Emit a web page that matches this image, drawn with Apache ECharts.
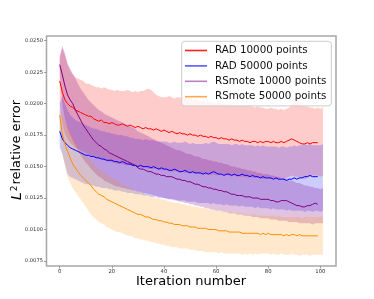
<!DOCTYPE html>
<html>
<head>
<meta charset="utf-8">
<script src="https://cdn.jsdelivr.net/npm/echarts@6.0.0/dist/echarts.min.js"></script>
<style>html,body{margin:0;padding:0;background:#fff}#c{width:374px;height:299px}</style>
</head>
<body>
<div id="c"></div>
<script>
// ---- data ----
const seriesNames = ['RAD 10000 points', 'RAD 50000 points', 'RSmote 10000 points', 'RSmote 50000 points'];
const xTicks = [0, 20, 40, 60, 80, 100];
const yTicks = [0.0075, 0.0100, 0.0125, 0.0150, 0.0175, 0.0200, 0.0225, 0.0250];

const rad10kMean = [
.0218,.0209,.0203,.0200,.0198,.0197,.0195,.0194,.0193,.0192,
.0191,.0190,.0190,.0188,.0187,.0186,.0187,.0185,.0185,.0184,
.0185,.0184,.0183,.0183,.0184,.0183,.0182,.0183,.0182,.0181,
.0182,.0181,.0180,.0181,.0180,.0180,.0179,.0180,.0179,.0178,
.0179,.0178,.0177,.0178,.0177,.0176,.0177,.0176,.0176,.0175,
.0176,.0175,.0175,.0174,.0175,.0174,.0174,.0173,.0174,.0173,
.0173,.0172,.0173,.0172,.0172,.0171,.0172,.0171,.0171,.0170,
.0171,.0170,.0170,.0169,.0170,.0170,.0169,.0170,.0169,.0170,
.0170,.0169,.0170,.0169,.0169,.0170,.0169,.0170,.0171,.0172,
.0171,.0170,.0169,.0168,.0168,.0169,.0168,.0169,.0169,.0169];
const rad10kUpper = [
.0236,.0244,.0238,.0231,.0226,.0223,.0221,.0220,.0219,.0218,
.0216,.0216,.0215,.0214,.0213,.0213,.0212,.0213,.0212,.0211,
.0211,.0210,.0211,.0210,.0210,.0210,.0211,.0210,.0209,.0210,
.0209,.0210,.0210,.0211,.0212,.0211,.0209,.0207,.0206,.0205,
.0205,.0205,.0206,.0205,.0204,.0205,.0205,.0204,.0205,.0204,
.0204,.0203,.0204,.0203,.0202,.0202,.0201,.0202,.0201,.0201,
.0200,.0201,.0200,.0200,.0199,.0200,.0199,.0199,.0198,.0199,
.0199,.0198,.0199,.0198,.0198,.0197,.0198,.0197,.0197,.0196,
.0196,.0197,.0196,.0196,.0195,.0196,.0195,.0196,.0197,.0199,
.0201,.0202,.0201,.0199,.0198,.0198,.0197,.0197,.0196,.0197,.0196,.0197];
const rad10kLower = [
.0200,.0185,.0176,.0172,.0169,.0167,.0165,.0164,.0163,.0162,
.0161,.0160,.0159,.0158,.0157,.0156,.0156,.0155,.0154,.0154,
.0153,.0153,.0152,.0152,.0152,.0151,.0151,.0151,.0150,.0150,
.0150,.0149,.0149,.0149,.0148,.0148,.0148,.0148,.0147,.0147,
.0147,.0147,.0146,.0146,.0146,.0146,.0145,.0146,.0145,.0145,
.0145,.0145,.0144,.0145,.0144,.0144,.0144,.0144,.0143,.0144,
.0143,.0143,.0144,.0143,.0143,.0143,.0142,.0143,.0142,.0142,
.0142,.0142,.0141,.0142,.0141,.0141,.0141,.0141,.0140,.0141,
.0141,.0140,.0141,.0140,.0140,.0141,.0140,.0141,.0142,.0143,
.0142,.0142,.0141,.0141,.0140,.0141,.0142,.0143,.0143,.0143,.0142,.0143];

const rad50kMean = [
.0178,.0172,.0169,.0167,.0165,.0164,.0163,.0162,.0161,.0160,
.0159,.0159,.0158,.0158,.0157,.0157,.0156,.0156,.0155,.0155,
.0155,.0154,.0154,.0153,.0154,.0153,.0152,.0152,.0151,.0151,
.0150,.0151,.0150,.0150,.0150,.0149,.0150,.0149,.0148,.0149,
.0148,.0148,.0147,.0147,.0148,.0147,.0146,.0146,.0147,.0146,
.0145,.0146,.0145,.0145,.0145,.0144,.0145,.0144,.0145,.0146,
.0145,.0144,.0144,.0143,.0144,.0144,.0143,.0144,.0143,.0143,
.0144,.0143,.0143,.0142,.0143,.0142,.0142,.0141,.0142,.0141,
.0141,.0141,.0140,.0141,.0140,.0140,.0140,.0139,.0140,.0140,
.0141,.0140,.0141,.0141,.0142,.0142,.0143,.0142,.0142,.0142];
const rad50kUpper = [
.0200,.0206,.0200,.0195,.0191,.0189,.0187,.0186,.0185,.0184,
.0183,.0182,.0181,.0180,.0180,.0179,.0178,.0178,.0177,.0177,
.0176,.0176,.0175,.0175,.0175,.0174,.0174,.0173,.0173,.0172,
.0172,.0172,.0171,.0172,.0171,.0171,.0171,.0170,.0170,.0170,
.0170,.0170,.0169,.0169,.0170,.0169,.0169,.0169,.0170,.0169,
.0168,.0169,.0168,.0168,.0168,.0168,.0169,.0168,.0169,.0170,
.0169,.0168,.0168,.0168,.0168,.0168,.0167,.0168,.0168,.0167,
.0168,.0167,.0167,.0167,.0167,.0166,.0167,.0166,.0167,.0166,
.0166,.0166,.0166,.0166,.0165,.0166,.0166,.0165,.0166,.0166,
.0167,.0166,.0167,.0167,.0168,.0167,.0168,.0167,.0167,.0167,.0167,.0168];
const rad50kLower = [
.0165,.0160,.0152,.0144,.0142,.0141,.0140,.0139,.0138,.0137,
.0136,.0136,.0135,.0135,.0134,.0134,.0133,.0133,.0133,.0132,
.0132,.0131,.0131,.0131,.0130,.0130,.0129,.0129,.0129,.0128,
.0128,.0128,.0127,.0127,.0127,.0126,.0126,.0126,.0125,.0125,
.0125,.0124,.0124,.0124,.0124,.0123,.0123,.0123,.0123,.0122,
.0122,.0122,.0122,.0121,.0121,.0121,.0121,.0121,.0120,.0121,
.0120,.0120,.0120,.0119,.0120,.0119,.0119,.0119,.0119,.0118,
.0119,.0118,.0118,.0118,.0118,.0117,.0118,.0117,.0117,.0117,
.0117,.0116,.0117,.0116,.0116,.0116,.0116,.0115,.0116,.0115,
.0115,.0115,.0115,.0115,.0114,.0115,.0115,.0114,.0115,.0115,.0114,.0115];

const rs10kMean = [
.0231,.0223,.0214,.0207,.0203,.0200,.0195,.0191,.0187,.0183,
.0180,.0177,.0174,.0171,.0169,.0167,.0166,.0164,.0163,.0161,
.0160,.0159,.0158,.0157,.0156,.0155,.0154,.0153,.0152,.0151,
.0149,.0148,.0148,.0147,.0146,.0146,.0145,.0144,.0144,.0143,
.0143,.0142,.0142,.0142,.0141,.0140,.0140,.0139,.0139,.0138,
.0138,.0137,.0136,.0136,.0135,.0134,.0134,.0133,.0133,.0132,
.0132,.0131,.0131,.0130,.0130,.0129,.0128,.0128,.0127,.0127,
.0127,.0126,.0126,.0126,.0125,.0125,.0125,.0124,.0124,.0124,
.0124,.0123,.0123,.0122,.0122,.0123,.0123,.0123,.0122,.0121,
.0120,.0119,.0119,.0118,.0118,.0119,.0119,.0120,.0121,.0120];
const rs10kUpper = [
.0238,.0246,.0240,.0232,.0228,.0224,.0220,.0216,.0212,.0209,
.0206,.0203,.0201,.0199,.0197,.0195,.0194,.0192,.0191,.0190,
.0189,.0188,.0187,.0186,.0185,.0184,.0183,.0182,.0181,.0180,
.0178,.0177,.0176,.0175,.0174,.0173,.0172,.0171,.0170,.0169,
.0168,.0167,.0166,.0165,.0164,.0163,.0163,.0162,.0161,.0160,
.0160,.0159,.0158,.0158,.0157,.0156,.0156,.0155,.0155,.0154,
.0154,.0153,.0153,.0152,.0152,.0151,.0150,.0150,.0149,.0149,
.0148,.0148,.0147,.0147,.0146,.0146,.0145,.0145,.0144,.0144,
.0144,.0143,.0143,.0142,.0142,.0141,.0141,.0140,.0139,.0139,
.0138,.0137,.0137,.0136,.0135,.0135,.0134,.0134,.0133,.0133,.0132,.0133];
const rs10kLower = [
.0224,.0200,.0188,.0180,.0175,.0171,.0167,.0163,.0159,.0156,
.0153,.0151,.0148,.0146,.0144,.0142,.0141,.0139,.0138,.0137,
.0136,.0135,.0134,.0134,.0133,.0133,.0132,.0132,.0131,.0131,
.0130,.0130,.0129,.0129,.0128,.0128,.0127,.0127,.0126,.0126,
.0125,.0125,.0124,.0124,.0123,.0123,.0122,.0122,.0121,.0121,
.0120,.0120,.0119,.0119,.0118,.0118,.0117,.0117,.0116,.0116,
.0115,.0115,.0115,.0114,.0114,.0113,.0113,.0113,.0112,.0112,
.0112,.0111,.0111,.0111,.0110,.0110,.0110,.0109,.0109,.0109,
.0109,.0108,.0108,.0108,.0107,.0107,.0107,.0107,.0106,.0106,
.0106,.0106,.0105,.0105,.0105,.0105,.0105,.0104,.0105,.0105,.0105,.0105];

const rs50kMean = [
.0191,.0176,.0168,.0162,.0157,.0152,.0149,.0146,.0143,.0141,
.0139,.0137,.0135,.0132,.0130,.0128,.0127,.0126,.0124,.0123,
.0122,.0121,.0120,.0119,.0118,.0117,.0116,.0115,.0114,.0113,
.0112,.0112,.0111,.0110,.0110,.0109,.0108,.0108,.0107,.0107,
.0106,.0106,.0105,.0105,.0104,.0104,.0104,.0103,.0103,.0103,
.0102,.0102,.0102,.0101,.0101,.0101,.0101,.0100,.0100,.0100,
.0100,.0099,.0099,.0099,.0099,.0098,.0098,.0098,.0098,.0098,
.0097,.0097,.0097,.0097,.0097,.0097,.0097,.0096,.0097,.0096,
.0097,.0096,.0096,.0096,.0096,.0096,.0095,.0096,.0095,.0096,
.0096,.0095,.0096,.0095,.0095,.0095,.0095,.0095,.0095,.0095];
const rs50kUpper = [
.0196,.0192,.0186,.0182,.0178,.0173,.0169,.0166,.0163,.0161,
.0159,.0157,.0155,.0152,.0150,.0148,.0147,.0145,.0144,.0142,
.0141,.0140,.0139,.0137,.0136,.0135,.0134,.0133,.0132,.0131,
.0130,.0130,.0129,.0128,.0127,.0127,.0126,.0125,.0125,.0124,
.0124,.0123,.0122,.0122,.0121,.0121,.0121,.0120,.0120,.0119,
.0119,.0118,.0118,.0118,.0117,.0117,.0117,.0116,.0116,.0116,
.0115,.0115,.0115,.0114,.0114,.0114,.0114,.0113,.0113,.0113,
.0113,.0112,.0112,.0112,.0112,.0112,.0111,.0111,.0111,.0111,
.0111,.0111,.0111,.0110,.0111,.0110,.0110,.0110,.0110,.0110,
.0110,.0110,.0110,.0109,.0110,.0110,.0110,.0110,.0110,.0110,.0110,.0111];
const rs50kLower = [
.0186,.0160,.0150,.0142,.0137,.0133,.0130,.0127,.0124,.0121,
.0118,.0115,.0112,.0110,.0108,.0106,.0105,.0104,.0102,.0101,
.0100,.0099,.0098,.0098,.0097,.0096,.0095,.0095,.0094,.0093,
.0093,.0092,.0092,.0091,.0091,.0090,.0090,.0089,.0089,.0088,
.0088,.0087,.0087,.0086,.0086,.0086,.0085,.0085,.0085,.0085,
.0084,.0084,.0084,.0083,.0083,.0083,.0082,.0082,.0082,.0082,
.0082,.0081,.0082,.0081,.0081,.0081,.0081,.0081,.0081,.0081,
.0080,.0081,.0080,.0081,.0080,.0081,.0080,.0081,.0081,.0081,
.0081,.0080,.0081,.0080,.0080,.0081,.0080,.0080,.0080,.0081,
.0080,.0080,.0079,.0080,.0080,.0080,.0079,.0080,.0080,.0080,.0080,.0080];

// ---- build ----
const lineX = rad10kMean.map((_, i) => i);      // iterations 0..99
const bandX = rad10kUpper.map((_, i) => i);     // band samples 0..101

const lineColors = ['#ff0000', '#0000ff', '#800080', '#ff8c00'];
const legendColors = ['#ff2020', '#5a5aff', '#c080c0', '#ffa850'];
const bandFills = ['rgba(255,0,0,0.2)', 'rgba(0,0,255,0.2)', 'rgba(128,0,128,0.24)', 'rgba(255,140,0,0.2)'];
const means = [rad10kMean, rad50kMean, rs10kMean, rs50kMean];
const uppers = [rad10kUpper, rad50kUpper, rs10kUpper, rs50kUpper];
const lowers = [rad10kLower, rad50kLower, rs10kLower, rs50kLower];

const FONT = 'DejaVu Sans';
const series = [];
for (let k = 0; k < 4; k++) {
  const up = uppers[k], lo = lowers[k];
  series.push({
    type: 'custom',
    name: 'band' + k,
    silent: true,
    z: 1,
    data: [[bandX[0], up[0]]],
    renderItem: function (params, api) {
      const pts = [];
      for (let i = 0; i < bandX.length; i++) pts.push(api.coord([bandX[i], up[i]]));
      for (let i = bandX.length - 1; i >= 0; i--) pts.push(api.coord([bandX[i], lo[i]]));
      return { type: 'polygon', shape: { points: pts }, style: { fill: bandFills[k] } };
    }
  });
}
for (let k = 0; k < 4; k++) {
  series.push({
    type: 'line',
    name: seriesNames[k],
    z: 3,
    showSymbol: false,
    symbol: 'none',
    animation: false,
    lineStyle: { color: lineColors[k], width: 1 },
    itemStyle: { color: lineColors[k] },
    data: lineX.map((x, i) => [x, means[k][i]])
  });
}

const chart = echarts.init(document.getElementById('c'), null, { renderer: 'canvas' });
chart.setOption({
  animation: false,
  backgroundColor: '#fff',
  grid: { left: 46.5, top: 36, right: 38, bottom: 33, show: true, borderColor: '#a8a8a8', borderWidth: 1.5, backgroundColor: 'transparent' },
  xAxis: {
    type: 'value', min: -5.07, max: 106.0,
    axisLine: { show: false, onZero: false },
    splitLine: { show: false },
    axisTick: { show: true, inside: false, customValues: xTicks, length: 2.5, lineStyle: { color: '#888', width: 0.8 } },
    axisLabel: { customValues: xTicks, fontSize: 5.3, fontFamily: FONT, color: '#333', margin: 3.5 }
  },
  yAxis: {
    type: 'value', min: 0.007103, max: 0.025373,
    axisLine: { show: false, onZero: false },
    splitLine: { show: false },
    axisTick: { show: true, inside: false, customValues: yTicks, length: 2.5, lineStyle: { color: '#888', width: 0.8 } },
    axisLabel: { customValues: yTicks, fontSize: 5.2, fontFamily: FONT, color: '#333', margin: 3.5,
      formatter: v => v.toFixed(4) }
  },
  legend: {
    left: 181.7, top: 41.3, orient: 'vertical',
    padding: [1.5, 5, 1.5, 3.3], itemGap: 0,
    itemWidth: 22, itemHeight: 1.6, icon: 'rect',
    backgroundColor: 'rgba(255,255,255,0.8)', borderColor: '#cccccc', borderWidth: 1, borderRadius: 3,
    textStyle: { fontFamily: FONT, fontSize: 10.3, color: '#111', lineHeight: 15.4, padding: [0, 0, 0, 3] },
    data: seriesNames.map((n, k) => ({ name: n, itemStyle: { color: legendColors[k] } }))
  },
  graphic: [
    { type: 'text', x: 191, y: 281.5, style: { text: 'Iteration number', font: '13px "DejaVu Sans"', fill: '#000', align: 'center', verticalAlign: 'middle' } },
    { type: 'text', x: 17, y: 150, rotation: Math.PI / 2,
      style: { text: '{l|L}{s|2}{t|relative error}', align: 'center', verticalAlign: 'middle', fill: '#000',
        rich: {
          l: { fontFamily: FONT, fontSize: 14, fontStyle: 'italic', fill: '#000' },
          s: { fontFamily: FONT, fontSize: 9, fill: '#000', verticalAlign: 'top', padding: [0, 1, 0, 1] },
          t: { fontFamily: FONT, fontSize: 13, fill: '#000' }
        } } }
  ],
  series: series
});
</script>
</body>
</html>
